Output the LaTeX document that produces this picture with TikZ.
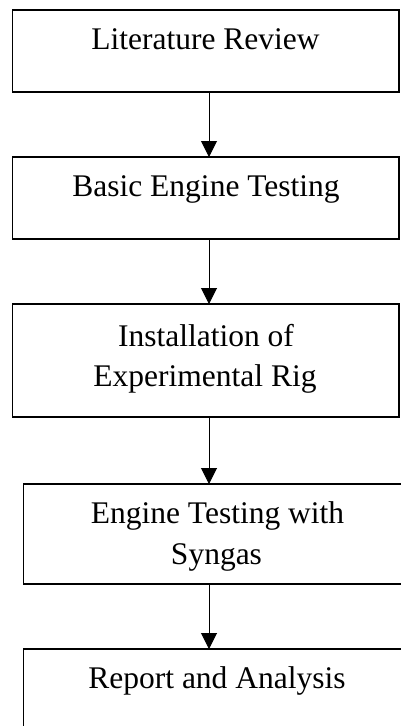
\documentclass[tikz,border=0pt]{standalone}
\usepackage{fontspec}
\setmainfont{Liberation Serif}
\usetikzlibrary{arrows.meta}
\begin{document}
\begin{tikzpicture}[x=1pt,y=-1pt,
  box/.style={draw=black, line width=1.3pt, rectangle, inner sep=0pt, outer sep=0pt, anchor=north west},
  txt/.style={anchor=base, inner sep=0pt, font=\fontsize{31.5}{38}\selectfont},
  arr/.style={line width=1pt, -{Triangle[width=16pt,length=16pt]}}]
\useasboundingbox (0,0) rectangle (401,726);
\clip (0,0) rectangle (401,726);
\node[box, minimum width=386.5pt, minimum height=82pt] (b1) at (12.5,10) {};
\node[box, minimum width=386.5pt, minimum height=82pt] (b2) at (12.5,157) {};
\node[box, minimum width=386.5pt, minimum height=113pt] (b3) at (12.5,304) {};
\node[box, minimum width=396.5pt, minimum height=100pt] (b4) at (23.5,484) {};
\node[box, minimum width=396.5pt, minimum height=95pt] (b5) at (23.5,649) {};
\node[txt] (t1) at (205.5,49.5) {Literature Review};
\node[txt] (t2) at (206,196.5) {Basic Engine Testing};
\node[txt] (t3a) at (206,346) {Installation of};
\node[txt] (t3b) at (205,386.7) {Experimental Rig};
\node[txt] (t4a) at (217.5,523.3) {Engine Testing with};
\node[txt] (t4b) at (216.5,564) {Syngas};
\node[txt] (t5) at (217,688.3) {Report and Analysis};
\coordinate (ax) at (209,0);
\draw[arr] (b1.south -| ax) -- (b2.north -| ax);
\draw[arr] (b2.south -| ax) -- (b3.north -| ax);
\draw[arr] (b3.south -| ax) -- (b4.north -| ax);
\draw[arr] (b4.south -| ax) -- (b5.north -| ax);
\end{tikzpicture}
\end{document}
